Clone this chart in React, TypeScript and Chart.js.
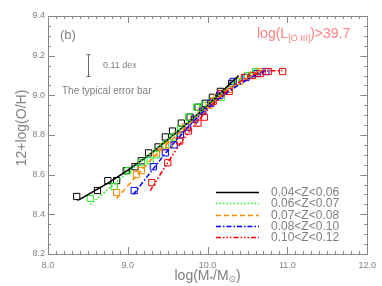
import React, { useEffect, useRef } from "react";
import { Chart, registerables } from "chart.js";

Chart.register(...registerables);

const seriesLabels = ["0.04<Z<0.06", "0.06<Z<0.07", "0.07<Z<0.08", "0.08<Z<0.10", "0.10<Z<0.12"];
const seriesColors = ["#000000", "#22ee22", "#ff8c00", "#0000ff", "#ff0000"];
const seriesDashes: number[][] = [
  [],
  [1.5, 2],
  [5, 3],
  [5, 2, 1.5, 2],
  [5, 2, 1.5, 2, 1.5, 2, 1.5, 2],
];

// squares (binned medians)
const sqX0 = [8.36, 8.62, 8.75, 8.86, 8.98, 9.09, 9.17, 9.26, 9.38, 9.47, 9.56, 9.67, 9.78, 9.88, 9.97, 10.06, 10.16, 10.30];
const sqY0 = [8.49, 8.52, 8.57, 8.57, 8.62, 8.64, 8.67, 8.71, 8.74, 8.79, 8.82, 8.86, 8.89, 8.94, 8.96, 8.99, 9.02, 9.06];
const sqX1 = [8.53, 8.83, 9.00, 9.17, 9.28, 9.36, 9.47, 9.57, 9.66, 9.76, 9.86, 9.96, 10.05, 10.17, 10.36, 10.50, 10.60];
const sqY1 = [8.48, 8.54, 8.62, 8.66, 8.67, 8.70, 8.75, 8.79, 8.83, 8.89, 8.94, 8.95, 8.97, 8.99, 9.07, 9.10, 9.12];
const sqX2 = [8.86, 9.11, 9.17, 9.36, 9.44, 9.52, 9.62, 9.72, 9.82, 9.92, 10.02, 10.12, 10.27, 10.40, 10.55, 10.65];
const sqY2 = [8.51, 8.60, 8.62, 8.71, 8.74, 8.75, 8.80, 8.84, 8.88, 8.92, 8.95, 8.99, 9.03, 9.07, 9.10, 9.12];
const sqX3 = [9.08, 9.32, 9.47, 9.58, 9.66, 9.75, 9.84, 9.94, 10.04, 10.15, 10.32, 10.48, 10.62, 10.73];
const sqY3 = [8.52, 8.64, 8.71, 8.75, 8.80, 8.84, 8.88, 8.92, 8.96, 9.00, 9.07, 9.09, 9.11, 9.12];
const sqX4 = [9.30, 9.50, 9.65, 9.76, 9.88, 9.96, 10.07, 10.17, 10.27, 10.46, 10.56, 10.66, 10.76, 10.94];
const sqY4 = [8.56, 8.66, 8.77, 8.82, 8.86, 8.89, 8.97, 9.01, 9.02, 9.09, 9.10, 9.11, 9.12, 9.12];

// fitted curves
const lnX0 = [8.37, 8.8, 9.2, 9.6, 10.0, 10.39];
const lnY0 = [8.47, 8.57, 8.68, 8.81, 8.95, 9.10];
const lnX1 = [8.53, 9.17, 9.5, 9.8, 10.1, 10.4, 10.63];
const lnY1 = [8.45, 8.67, 8.78, 8.88, 8.99, 9.08, 9.14];
const lnX2 = [8.86, 9.1, 9.4, 9.7, 10.0, 10.3, 10.69];
const lnY2 = [8.48, 8.59, 8.72, 8.83, 8.94, 9.04, 9.13];
const lnX3 = [9.07, 9.3, 9.6, 9.9, 10.2, 10.5, 10.75];
const lnY3 = [8.50, 8.62, 8.77, 8.90, 9.00, 9.08, 9.13];
const lnX4 = [9.28, 9.5, 9.7, 9.9, 10.1, 10.3, 10.5, 10.7, 10.94];
const lnY4 = [8.52, 8.66, 8.78, 8.88, 8.97, 9.04, 9.09, 9.12, 9.125];

const squaresX = [sqX0, sqX1, sqX2, sqX3, sqX4];
const squaresY = [sqY0, sqY1, sqY2, sqY3, sqY4];
const linesX = [lnX0, lnX1, lnX2, lnX3, lnX4];
const linesY = [lnY0, lnY1, lnY2, lnY3, lnY4];

const xMin = 8.0, xMax = 12.0, xStep = 1.0, xMinor = 0.1;
const yMin = 8.2, yMax = 9.4, yStep = 0.2, yMinor = 0.05;

const errorBarValue = 0.11;
const errorBarX = 8.5;
const errorBarYCenter = 9.15;

const AXIS = "#888888";
const TEXT = "#808080";
const FONT = "'Liberation Sans', 'DejaVu Sans', Arial, sans-serif";

const zip = (xs: number[], ys: number[]) => xs.map((x, i) => ({ x, y: ys[i] }));

const decoPlugin = {
  id: "deco",
  afterDraw(chart: any) {
    const ctx = chart.ctx as CanvasRenderingContext2D;
    const xs = chart.scales.x;
    const ys = chart.scales.y;
    const { left, right, top, bottom } = chart.chartArea;
    ctx.save();
    // frame
    ctx.strokeStyle = AXIS;
    ctx.lineWidth = 1;
    ctx.strokeRect(Math.round(left) + 0.5, Math.round(top) + 0.5, Math.round(right - left), Math.round(bottom - top));
    // ticks
    ctx.beginPath();
    const nx = Math.round((xMax - xMin) / xMinor);
    for (let i = 0; i <= nx; i++) {
      const v = xMin + i * xMinor;
      const px = Math.round(xs.getPixelForValue(v)) + 0.5;
      const major = i % Math.round(xStep / xMinor) === 0;
      const len = major ? 7 : 3;
      ctx.moveTo(px, bottom);
      ctx.lineTo(px, bottom - len);
      ctx.moveTo(px, top);
      ctx.lineTo(px, top + len);
    }
    const ny = Math.round((yMax - yMin) / yMinor);
    for (let i = 0; i <= ny; i++) {
      const v = yMin + i * yMinor;
      const py = Math.round(ys.getPixelForValue(v)) + 0.5;
      const major = i % Math.round(yStep / yMinor) === 0;
      const len = major ? 7 : 3;
      ctx.moveTo(left, py);
      ctx.lineTo(left + len, py);
      ctx.moveTo(right, py);
      ctx.lineTo(right - len, py);
    }
    ctx.stroke();

    // (b)
    ctx.fillStyle = TEXT;
    ctx.textBaseline = "middle";
    ctx.textAlign = "left";
    ctx.font = `13px ${FONT}`;
    ctx.fillText("(b)", 60, 35);

    // error bar
    const ex = Math.round(xs.getPixelForValue(errorBarX)) + 0.5;
    const ey1 = ys.getPixelForValue(errorBarYCenter + errorBarValue / 2);
    const ey2 = ys.getPixelForValue(errorBarYCenter - errorBarValue / 2);
    ctx.strokeStyle = "#666666";
    ctx.beginPath();
    ctx.moveTo(ex, ey1);
    ctx.lineTo(ex, ey2);
    ctx.moveTo(ex - 2, ey1);
    ctx.lineTo(ex + 2, ey1);
    ctx.moveTo(ex - 2, ey2);
    ctx.lineTo(ex + 2, ey2);
    ctx.stroke();
    ctx.font = `9px ${FONT}`;
    ctx.fillText(errorBarValue.toFixed(2) + " dex", 103, (ey1 + ey2) / 2);
    ctx.font = `10px ${FONT}`;
    ctx.fillText("The typical error bar", 62, 91);

    // pink label
    ctx.fillStyle = "#ff8080";
    let tx = 257;
    const ty = 34;
    ctx.font = `14px ${FONT}`;
    ctx.fillText("log(L", tx, ty);
    tx += ctx.measureText("log(L").width;
    ctx.font = `9px ${FONT}`;
    ctx.fillText("[O III]", tx, ty + 5);
    tx += ctx.measureText("[O III]").width;
    ctx.font = `14px ${FONT}`;
    ctx.fillText(")>39.7", tx, ty);

    // legend
    for (let i = 0; i < seriesLabels.length; i++) {
      const ly = Math.round(192 + i * 11.3) + 0.5;
      ctx.strokeStyle = seriesColors[i];
      ctx.lineWidth = 1.5;
      ctx.setLineDash(seriesDashes[i]);
      ctx.beginPath();
      ctx.moveTo(216, ly);
      ctx.lineTo(259, ly);
      ctx.stroke();
      ctx.setLineDash([]);
      ctx.fillStyle = TEXT;
      ctx.font = `12px ${FONT}`;
      ctx.fillText(seriesLabels[i], 271, ly);
    }

    // y title
    ctx.save();
    ctx.translate(22, 128);
    ctx.rotate(-Math.PI / 2);
    ctx.textAlign = "center";
    ctx.font = `14px ${FONT}`;
    ctx.fillStyle = TEXT;
    ctx.fillText("12+log(O/H)", 0, 0);
    ctx.restore();

    // x title
    const parts: [string, boolean][] = [["log(M", false], ["*", true], ["/M", false], ["\u2299", true], [")", false]];
    let total = 0;
    for (const [s, sub] of parts) {
      ctx.font = sub ? `9px ${FONT}` : `14px ${FONT}`;
      total += ctx.measureText(s).width;
    }
    let cx = (left + right) / 2 - total / 2;
    const cy = 276;
    ctx.fillStyle = TEXT;
    ctx.textAlign = "left";
    for (const [s, sub] of parts) {
      ctx.font = sub ? `9px ${FONT}` : `14px ${FONT}`;
      ctx.fillText(s, cx, sub ? cy + 4 : cy);
      cx += ctx.measureText(s).width;
    }
    ctx.restore();
  },
};

export default function App() {
  const ref = useRef<HTMLCanvasElement>(null);
  useEffect(() => {
    if (!ref.current) return;
    const datasets: any[] = [];
    for (let i = 0; i < 5; i++) {
      datasets.push({
        type: "scatter",
        label: seriesLabels[i] + " bins",
        data: zip(squaresX[i], squaresY[i]),
        showLine: false,
        pointStyle: "rect",
        pointRadius: 4.4,
        pointBorderWidth: 1,
        pointBackgroundColor: "rgba(0,0,0,0)",
        pointBorderColor: seriesColors[i],
        borderColor: seriesColors[i],
        order: 10 - i,
      });
    }
    for (let i = 0; i < 5; i++) {
      datasets.push({
        type: "scatter",
        label: seriesLabels[i],
        data: zip(linesX[i], linesY[i]),
        showLine: true,
        tension: 0.3,
        pointRadius: 0,
        borderColor: seriesColors[i],
        borderWidth: 1.5,
        borderDash: seriesDashes[i],
        order: 5 - i,
      });
    }
    const chart = new Chart(ref.current, {
      type: "scatter",
      data: { datasets },
      options: {
        animation: false,
        responsive: false,
        maintainAspectRatio: false,
        layout: { padding: { top: 16, right: 14, left: 0, bottom: 0 } },
        plugins: { legend: { display: false }, tooltip: { enabled: false } },
        scales: {
          x: {
            type: "linear",
            min: xMin,
            max: xMax,
            ticks: {
              stepSize: xStep,
              color: TEXT,
              font: { size: 9, family: FONT },
              padding: 6,
              maxRotation: 0,
              callback: (v: any) => Number(v).toFixed(1),
            },
            grid: { display: false, drawTicks: false },
            border: { display: false },
            afterFit: (s: any) => { s.height = 32; },
          },
          y: {
            type: "linear",
            min: yMin,
            max: yMax,
            ticks: {
              stepSize: yStep,
              color: TEXT,
              font: { size: 9, family: FONT },
              padding: 3,
              callback: (v: any) => Number(v).toFixed(1),
            },
            grid: { display: false, drawTicks: false },
            border: { display: false },
            afterFit: (s: any) => { s.width = 48; },
          },
        },
      },
      plugins: [decoPlugin],
    });
    return () => chart.destroy();
  }, []);
  return (
    <div style={{ position: "fixed", left: 0, top: 0, width: 382, height: 286, background: "#fff" }}>
      <canvas ref={ref} width={382} height={286} style={{ width: 382, height: 286 }} />
    </div>
  );
}
